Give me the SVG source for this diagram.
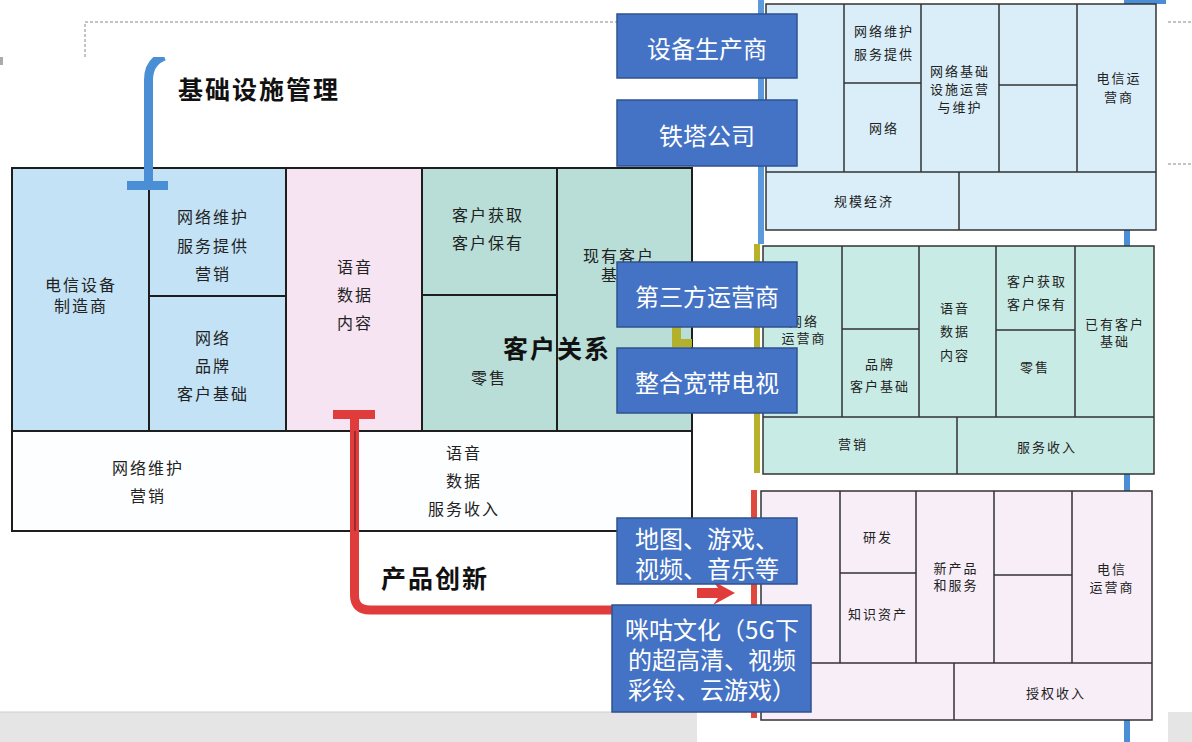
<svg xmlns="http://www.w3.org/2000/svg" width="1192" height="742" viewBox="0 0 1192 742">
<style>
text{font-family:"Noto Sans CJK SC","Liberation Sans",sans-serif;fill:#222;text-anchor:middle;dominant-baseline:central}
.t16{font-size:16px;letter-spacing:2px}
.t13{font-size:13px;letter-spacing:2px}
.title{font-size:25px;font-weight:700;letter-spacing:2px;fill:#111}
.cell{stroke:#1e1e1e;stroke-width:2}
.pcell{stroke:#333;stroke-width:1.5}
.blu{fill:#c3e2f5}.pnk{fill:#f6e4f3}.tea{fill:#b9ded8}.wht{fill:#fdfeff}
.p1{fill:#d9eef9}.p2{fill:#c9ebe5}.p3{fill:#f8eef8}
.box{fill:#4472c4;stroke:#2f528f;stroke-width:1.5}
.bt{fill:#fff;font-size:24px}
.dash{stroke:#888;stroke-width:1;stroke-dasharray:3 2;fill:none}
</style>
<defs>
<clipPath id="scanTop"><rect x="0" y="57" width="700" height="660"/></clipPath>
</defs>
<rect x="0" y="0" width="1192" height="742" fill="#fff"/>
<g id="frame">
<path class="dash" d="M85 57V22H617M1168 22H1192M1168 164H1192"/>
<rect x="0" y="57" width="3" height="8" fill="#aaa"/>
<rect x="0" y="712" width="697" height="30" fill="#e5e5e5"/>
<rect x="1168" y="712" width="24" height="30" fill="#e5e5e5"/>
<line x1="0" y1="712" x2="697" y2="712" stroke="#cfcfcf" stroke-width="1"/>
</g>

<g id="left-table">
<g id="n-maker"><rect class="cell blu" x="12" y="168" width="137" height="263"/><text class="t16" x="81" y="284">电信设备</text><text class="t16" x="81" y="305">制造商</text></g>
<g id="n-service"><rect class="cell blu" x="149" y="168" width="137" height="128"/><text class="t16" x="213" y="216">网络维护</text><text class="t16" x="213" y="245">服务提供</text><text class="t16" x="213" y="273">营销</text></g>
<g id="n-network"><rect class="cell blu" x="149" y="296" width="137" height="135"/><text class="t16" x="213" y="337">网络</text><text class="t16" x="213" y="365">品牌</text><text class="t16" x="213" y="393">客户基础</text></g>
<g id="n-content"><rect class="cell pnk" x="286" y="168" width="136" height="263"/><text class="t16" x="355" y="266">语音</text><text class="t16" x="355" y="294">数据</text><text class="t16" x="355" y="322">内容</text></g>
<g id="n-acquire"><rect class="cell tea" x="422" y="168" width="135" height="127"/><text class="t16" x="488" y="214">客户获取</text><text class="t16" x="488" y="242">客户保有</text></g>
<g id="n-retail"><rect class="cell tea" x="422" y="295" width="135" height="136"/><text class="t16" x="489" y="377">零售</text></g>
<g id="n-base"><rect class="cell tea" x="557" y="168" width="135" height="263"/><text class="t16" x="619" y="255">现有客户</text><text class="t16" x="619" y="274">基础</text></g>
<g id="n-cost"><rect class="cell wht" x="12" y="431" width="343" height="100"/><text class="t16" x="148" y="467">网络维护</text><text class="t16" x="148" y="495">营销</text></g>
<g id="n-revenue"><rect class="cell wht" x="355" y="431" width="337" height="100"/><text class="t16" x="464" y="452">语音</text><text class="t16" x="464" y="480">数据</text><text class="t16" x="464" y="508">服务收入</text></g>
<text class="title" x="557" y="347">客户关系</text>
</g>

<g id="connectors">
<path d="M148.5 186V80Q148.5 62 164 56" fill="none" stroke="#4a8fd6" stroke-width="9" clip-path="url(#scanTop)"/>
<rect x="127" y="181" width="41" height="9" fill="#4a8fd6"/>
<path d="M354.5 414V595Q354.5 610 370 610H616" fill="none" stroke="#e03c3c" stroke-width="9"/>
<rect x="333" y="410" width="42" height="9" fill="#e03c3c"/>
<line x1="355" y1="431" x2="355" y2="531" stroke="#5a1a1a" stroke-width="1"/>
<polygon points="697,588 718,588 713,581 735,593 713,605 718,598 697,598" fill="#e03c3c"/>
<path d="M672 320H681V339H692V347H672Z" fill="#b3b02c"/>
<rect x="1124" y="0" width="6" height="742" fill="#4a8fd6"/>
<rect x="1124" y="0" width="42" height="4" fill="#4a8fd6"/>
<rect x="758" y="0" width="6" height="244" fill="#5b9bdb"/>
<rect x="754" y="244" width="6" height="229" fill="#b8b22a"/>
<rect x="751" y="490" width="6" height="228" fill="#e04a3c"/>
</g>

<g id="panel-infra">
<rect class="pcell p1" x="766" y="4" width="390" height="226" stroke-width="2"/>
<path d="M844 4V172M921 4V172M999 4V172M1077 4V172M766 172H1156M959 172V230M844 83H921M999 85H1077" stroke="#333" stroke-width="1.5" fill="none"/>
<text class="t13" x="884" y="30">网络维护</text><text class="t13" x="884" y="53">服务提供</text>
<text class="t13" x="884" y="127">网络</text>
<text class="t13" x="960" y="70">网络基础</text><text class="t13" x="960" y="88">设施运营</text><text class="t13" x="960" y="106">与维护</text>
<text class="t13" x="1119" y="77">电信运</text><text class="t13" x="1119" y="96">营商</text>
<text class="t13" x="864" y="200">规模经济</text>
</g>

<g id="panel-customer">
<rect class="pcell p2" x="763" y="246" width="391" height="228" stroke-width="2"/>
<path d="M842 246V417M919 246V417M996 246V417M1075 246V417M763 417H1154M957 417V474M842 329H919M996 330H1075" stroke="#333" stroke-width="1.5" fill="none"/>
<text class="t13" x="804" y="320">网络</text><text class="t13" x="804" y="337">运营商</text>
<text class="t13" x="880" y="363">品牌</text><text class="t13" x="880" y="385">客户基础</text>
<text class="t13" x="955" y="307">语音</text><text class="t13" x="955" y="330">数据</text><text class="t13" x="955" y="354">内容</text>
<text class="t13" x="1037" y="280">客户获取</text><text class="t13" x="1037" y="303">客户保有</text>
<text class="t13" x="1035" y="366">零售</text>
<text class="t13" x="1115" y="323">已有客户</text><text class="t13" x="1115" y="340">基础</text>
<text class="t13" x="853" y="443">营销</text><text class="t13" x="1047" y="446">服务收入</text>
</g>

<g id="panel-product">
<rect class="pcell p3" x="761" y="491" width="391" height="229" stroke-width="2"/>
<path d="M840 491V663M916 491V663M994 491V663M1072 491V663M761 663H1152M954 663V720M840 573H916M994 575H1072" stroke="#333" stroke-width="1.5" fill="none"/>
<text class="t13" x="878" y="536">研发</text>
<text class="t13" x="878" y="613">知识资产</text>
<text class="t13" x="956" y="567">新产品</text><text class="t13" x="956" y="584">和服务</text>
<text class="t13" x="1112" y="568">电信</text><text class="t13" x="1112" y="586">运营商</text>
<text class="t13" x="1056" y="692">授权收入</text>
</g>

<g id="titles">
<text class="title" x="259" y="88">基础设施管理</text>
<text class="title" x="435" y="577">产品创新</text>
</g>

<g id="box-equipment"><rect class="box" x="617" y="14" width="180" height="64"/><text class="bt" x="707" y="47">设备生产商</text></g>
<g id="box-tower"><rect class="box" x="617" y="100" width="180" height="66"/><text class="bt" x="707" y="134">铁塔公司</text></g>
<g id="box-third"><rect class="box" x="617" y="262" width="180" height="65"/><text class="bt" x="707" y="295">第三方运营商</text></g>
<g id="box-iptv"><rect class="box" x="617" y="348" width="180" height="65"/><text class="bt" x="707" y="381">整合宽带电视</text></g>
<g id="box-apps"><rect class="box" x="617" y="518" width="180" height="66"/><text class="bt" x="707" y="537">地图、游戏、</text><text class="bt" x="707" y="567">视频、音乐等</text></g>
<g id="box-migu"><rect class="box" x="612" y="605" width="199" height="107"/><text class="bt" x="712" y="628">咪咕文化（5G下</text><text class="bt" x="712" y="658">的超高清、视频</text><text class="bt" x="712" y="688">彩铃、云游戏）</text></g>
</svg>
